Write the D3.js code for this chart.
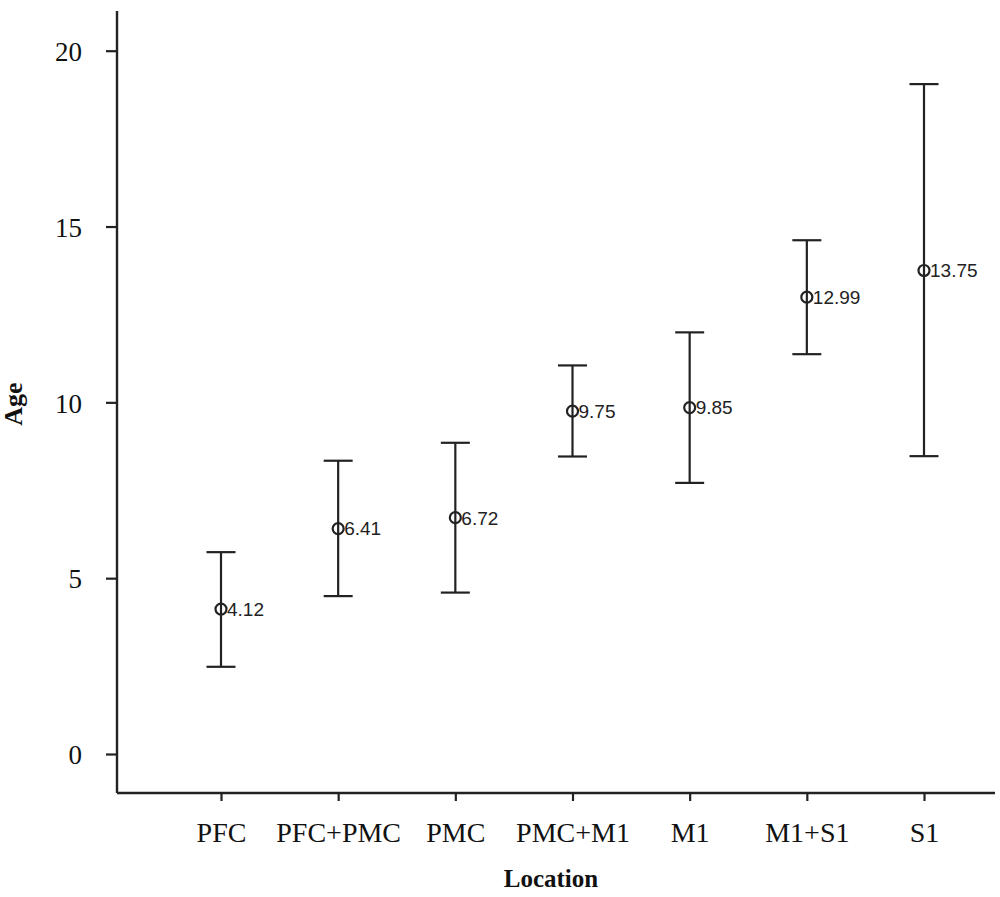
<!DOCTYPE html>
<html>
<head>
<meta charset="utf-8">
<script src="https://cdn.jsdelivr.net/npm/d3@7"></script>
<style>
  html, body { margin: 0; padding: 0; background: #fff; }
  svg { display: block; }
</style>
</head>
<body>
<div id="chart"></div>
<script>
// Mean age by lesion location, with error bars
const locations = ["PFC", "PFC+PMC", "PMC", "PMC+M1", "M1", "M1+S1", "S1"];
const means = [4.12, 6.41, 6.72, 9.75, 9.85, 12.99, 13.75];
const lower = [2.48, 4.49, 4.59, 8.46, 7.71, 11.37, 8.47];
const upper = [5.74, 8.34, 8.85, 11.05, 11.99, 14.61, 19.05];
const yTicks = [0, 5, 10, 15, 20];

const width = 1000;
const height = 897;
const ink = "#222";

const svg = d3.select("#chart")
  .append("svg")
  .attr("width", width)
  .attr("height", height);

// scales
const y = d3.scaleLinear().domain([0, 20]).range([754, 50.7]);
const x = d3.scalePoint().domain(locations).range([221, 924]);

const axisLeftX = 117;
const axisBottomY = 793;
const axisRightX = 995;

// left axis
const gy = svg.append("g").attr("transform", `translate(${axisLeftX},0)`);
gy.call(d3.axisLeft(y).tickValues(yTicks).tickSize(11).tickPadding(24).tickFormat(d3.format("d")));
gy.select(".domain").remove();
gy.selectAll(".tick line").attr("stroke", ink).attr("stroke-width", 2.2);
gy.selectAll(".tick text")
  .attr("fill", "#111")
  .attr("font-family", "'Liberation Serif', 'Times New Roman', serif")
  .attr("font-size", 27)
  .attr("dy", "0.36em");
svg.append("line")
  .attr("x1", axisLeftX).attr("x2", axisLeftX)
  .attr("y1", y(21.13)).attr("y2", axisBottomY)
  .attr("stroke", ink).attr("stroke-width", 2.4);

// bottom axis
const gx = svg.append("g").attr("transform", `translate(0,${axisBottomY})`);
gx.call(d3.axisBottom(x).tickSize(8).tickPadding(22));
gx.select(".domain").remove();
gx.selectAll(".tick line").attr("stroke", ink).attr("stroke-width", 2.2);
gx.selectAll(".tick text")
  .attr("fill", "#111")
  .attr("font-family", "'Liberation Serif', 'Times New Roman', serif")
  .attr("font-size", 28)
  .attr("dy", "0.69em");
svg.append("line")
  .attr("x1", axisLeftX).attr("x2", axisRightX)
  .attr("y1", axisBottomY).attr("y2", axisBottomY)
  .attr("stroke", ink).attr("stroke-width", 2.4);

// axis titles
svg.append("text")
  .attr("x", 551).attr("y", 887)
  .attr("text-anchor", "middle")
  .attr("font-family", "'Liberation Serif', 'Times New Roman', serif")
  .attr("font-weight", "bold")
  .attr("font-size", 25)
  .attr("fill", "#111")
  .text("Location");

svg.append("text")
  .attr("transform", "translate(22,404) rotate(-90)")
  .attr("text-anchor", "middle")
  .attr("font-family", "'Liberation Serif', 'Times New Roman', serif")
  .attr("font-weight", "bold")
  .attr("font-size", 26)
  .attr("fill", "#111")
  .text("Age");

// error bars
const rows = locations.map((loc, i) => ({ loc, mean: means[i], lo: lower[i], hi: upper[i] }));
const capHalf = 14.5;

const g = svg.append("g").attr("stroke", ink).attr("stroke-width", 2.2);

g.selectAll("line.stem")
  .data(rows).join("line")
  .attr("class", "stem")
  .attr("x1", d => x(d.loc)).attr("x2", d => x(d.loc))
  .attr("y1", d => y(d.hi)).attr("y2", d => y(d.lo));

g.selectAll("line.capTop")
  .data(rows).join("line")
  .attr("class", "capTop")
  .attr("x1", d => x(d.loc) - capHalf).attr("x2", d => x(d.loc) + capHalf)
  .attr("y1", d => y(d.hi)).attr("y2", d => y(d.hi));

g.selectAll("line.capBottom")
  .data(rows).join("line")
  .attr("class", "capBottom")
  .attr("x1", d => x(d.loc) - capHalf).attr("x2", d => x(d.loc) + capHalf)
  .attr("y1", d => y(d.lo)).attr("y2", d => y(d.lo));

// mean markers
svg.selectAll("circle.mean")
  .data(rows).join("circle")
  .attr("class", "mean")
  .attr("cx", d => x(d.loc))
  .attr("cy", d => y(d.mean))
  .attr("r", 5.5)
  .attr("fill", "none")
  .attr("stroke", ink)
  .attr("stroke-width", 2.2);

// value labels
svg.selectAll("text.val")
  .data(rows).join("text")
  .attr("class", "val")
  .attr("x", d => x(d.loc) + 6)
  .attr("y", d => y(d.mean))
  .attr("dy", "0.36em")
  .attr("font-family", "'Liberation Sans', Arial, sans-serif")
  .attr("font-size", 19)
  .attr("fill", "#222")
  .text(d => d.mean.toFixed(2));
</script>
</body>
</html>
